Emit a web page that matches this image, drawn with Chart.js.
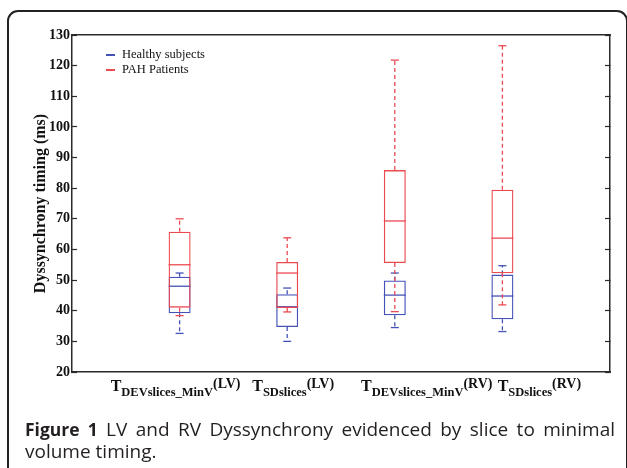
<!DOCTYPE html>
<html>
<head>
<meta charset="utf-8">
<script src="https://cdn.jsdelivr.net/npm/chart.js@4.4.1/dist/chart.umd.min.js"></script>
<style>
  html, body { margin: 0; padding: 0; background: #fff; }
  #wrap { position: relative; width: 627px; height: 468px; overflow: hidden; }
  #c { position: absolute; left: 0; top: 0; }
  #frame { position: absolute; left: 7px; top: 10px; width: 617px; height: 490px;
           border: 2px solid #222; border-radius: 11px; pointer-events: none; }
  .leg { position: absolute; left: 106px; font: 12.5px "Liberation Serif", serif; color: #111;
         line-height: 15px; white-space: nowrap; }
  .leg i { display: inline-block; width: 9px; height: 1.5px; vertical-align: middle; margin-right: 7px; }
  .xl { position: absolute; top: 377px; transform: translateX(-50%); white-space: nowrap;
        font-family: "Liberation Serif", serif; font-weight: bold; color: #111; line-height: 1; }
  .xl .t { font-size: 16px; }
  .xl sub { font-size: 12.5px; vertical-align: -5px; }
  .xl sup { font-size: 14px; vertical-align: 3px; }
  #cap { position: absolute; left: 25px; top: 418px; width: 590px; font: 19px "Open Sans", sans-serif;
         line-height: 22px; color: #231f20; text-align: justify; }
  #cap b { font-weight: 700; font-size: 17.5px; }
</style>
</head>
<body>
<div id="wrap">
  <canvas id="c" width="627" height="468"></canvas>
  <div class="leg" style="top:47px"><i style="background:#4552b8"></i>Healthy subjects</div>
  <div class="leg" style="top:62px"><i style="background:#ec4a51"></i>PAH Patients</div>
  <div id="xlabels"></div>
  <div id="cap"><b>Figure 1</b> LV and RV Dyssynchrony evidenced by slice to minimal volume timing.</div>
  <div id="frame"></div>
</div>
<script>
// tick labels: T with subscript and a raised suffix
const tickBase = ['T', 'T', 'T', 'T']
const tickSub = ['DEVslices_MinV', 'SDslices', 'DEVslices_MinV', 'SDslices']
const tickSide = ['(LV)', '(LV)', '(RV)', '(RV)']

// healthy subjects (blue)
const healthyMin = [32.6, 30.0, 34.5, 33.2]
const healthyQ1 = [39.2, 34.7, 38.5, 37.2]
const healthyMedian = [48.0, 41.3, 45.1, 44.8]
const healthyQ3 = [51.1, 45.4, 49.9, 51.8]
const healthyMax = [52.3, 47.4, 52.3, 54.7]

// PAH patients (red)
const pahMin = [38.4, 39.6, 39.7, 41.9]
const pahQ1 = [41.0, 40.9, 55.6, 52.2]
const pahMedian = [55.0, 52.3, 69.3, 63.7]
const pahQ3 = [65.8, 55.9, 85.9, 79.5]
const pahMax = [70.0, 63.8, 121.8, 126.5]

const BLUE = '#4552b8'
const RED = '#ec4a51'

// horizontal nudge of the hand-placed x labels, px
const labelShift = [-4, 6, 32, 37]

function boxDatasets(name, color, mins, q1s, meds, q3s, maxs) {
  const pos = i => i + 1
  const whiskers = []
  mins.forEach((m, i) => {
    whiskers.push({ x: pos(i), y: q3s[i] }, { x: pos(i), y: maxs[i] }, { x: pos(i), y: null })
    whiskers.push({ x: pos(i), y: q1s[i] }, { x: pos(i), y: m }, { x: pos(i), y: null })
  })
  const caps = []
  mins.forEach((m, i) => { caps.push({ x: pos(i), y: m }, { x: pos(i), y: maxs[i] }) })

  return [
    {
      type: 'bar', label: name,
      data: q1s.map((q, i) => ({ x: pos(i), y: [q, q3s[i]] })),
      backgroundColor: 'rgba(0,0,0,0)', borderColor: color, borderWidth: 1.3,
      borderSkipped: false, grouped: false, maxBarThickness: 22
    },
    {
      type: 'line', label: name + ' whiskers', data: whiskers,
      borderColor: color, borderWidth: 1.3, borderDash: [4, 3],
      pointRadius: 0, spanGaps: false, fill: false, tension: 0
    },
    {
      type: 'line', label: name + ' median', showLine: false,
      data: meds.map((v, i) => ({ x: pos(i), y: v })),
      pointStyle: 'line', pointRadius: 11, pointBorderWidth: 1.3,
      pointBorderColor: color, pointBackgroundColor: color
    },
    {
      type: 'line', label: name + ' caps', showLine: false, data: caps,
      pointStyle: 'line', pointRadius: 4, pointBorderWidth: 1.3,
      pointBorderColor: color, pointBackgroundColor: color
    }
  ]
}

const labelPlugin = {
  id: 'xlabels',
  afterDraw(chart) {
    const box = document.getElementById('xlabels')
    box.innerHTML = ''
    tickBase.forEach((t, i) => {
      const div = document.createElement('div')
      div.className = 'xl'
      div.style.left = (chart.scales.x.getPixelForValue(i + 1) + labelShift[i]) + 'px'
      div.innerHTML = '<span class="t">' + t + '</span><sub>' + tickSub[i] + '</sub><sup>' + tickSide[i] + '</sup>'
      box.appendChild(div)
    })
  }
}

const axisColor = '#2a2a2a'
const serifBold = { family: 'Liberation Serif', size: 14, weight: 'bold' }

new Chart(document.getElementById('c').getContext('2d'), {
  type: 'line',
  data: {
    datasets: [
      ...boxDatasets('PAH Patients', RED, pahMin, pahQ1, pahMedian, pahQ3, pahMax),
      ...boxDatasets('Healthy subjects', BLUE, healthyMin, healthyQ1, healthyMedian, healthyQ3, healthyMax)
    ]
  },
  options: {
    responsive: false,
    animation: false,
    events: [],
    layout: { padding: 0 },
    plugins: { legend: { display: false }, tooltip: { enabled: false } },
    scales: {
      x: {
        type: 'linear', position: 'bottom', min: 0, max: 5, offset: false,
        ticks: { display: false },
        grid: { display: false },
        border: { display: true, color: axisColor, width: 1.5 },
        afterFit: s => { s.height = 96 }
      },
      xTop: {
        type: 'linear', axis: 'x', position: 'top', min: 0, max: 5,
        ticks: { display: false },
        grid: { display: false },
        border: { display: true, color: axisColor, width: 1.5 },
        afterFit: s => { s.height = 35 }
      },
      y: {
        type: 'linear', position: 'left', min: 20, max: 130,
        ticks: { stepSize: 10, font: serifBold, color: '#111', padding: 7 },
        grid: { drawOnChartArea: false, tickLength: -5, color: axisColor, tickWidth: 1.2 },
        border: { display: true, color: axisColor, width: 1.5 },
        title: {
          display: true, text: 'Dyssynchrony timing (ms)', color: '#111',
          font: { family: 'Liberation Serif', size: 16, weight: 'bold' },
          padding: { top: 31, bottom: 0 }
        },
        afterFit: s => { s.width = 72 }
      },
      yRight: {
        type: 'linear', axis: 'y', position: 'right', min: 20, max: 130,
        ticks: { stepSize: 10, display: false },
        grid: { drawOnChartArea: false, tickLength: -5, color: axisColor, tickWidth: 1.2 },
        border: { display: true, color: axisColor, width: 1.5 },
        afterFit: s => { s.width = 17 }
      }
    }
  },
  plugins: [labelPlugin]
})
</script>
</body>
</html>
